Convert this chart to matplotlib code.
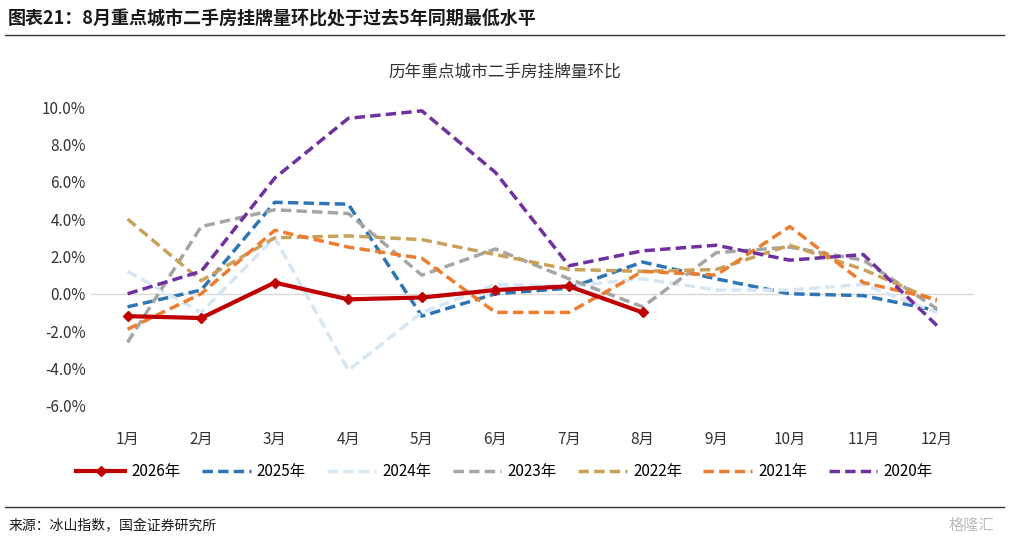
import matplotlib.pyplot as plt
from matplotlib.ticker import FuncFormatter

plt.rcParams['font.family'] = ['Noto Sans CJK SC', 'DejaVu Sans']

months = ['1月', '2月', '3月', '4月', '5月', '6月', '7月', '8月', '9月', '10月', '11月', '12月']
s2026 = [-1.2, -1.3, 0.6, -0.3, -0.2, 0.2, 0.4, -1.0]
s2025 = [-0.7, 0.2, 4.9, 4.8, -1.2, 0.0, 0.3, 1.7, 0.8, 0.0, -0.1, -0.9]
s2024 = [1.2, -1.0, 3.0, -4.1, -1.0, 0.5, 0.4, 0.8, 0.2, 0.2, 0.5, -1.0]
s2023 = [-2.6, 3.6, 4.5, 4.3, 1.0, 2.4, 0.8, -0.7, 2.2, 2.5, 1.8, -0.8]
s2022 = [4.0, 0.7, 3.0, 3.1, 2.9, 2.1, 1.3, 1.2, 1.3, 2.6, 1.3, -0.4]
s2021 = [-1.9, 0.0, 3.4, 2.5, 1.9, -1.0, -1.0, 1.2, 1.0, 3.6, 0.6, -0.3]
s2020 = [0.0, 1.2, 6.2, 9.4, 9.8, 6.5, 1.5, 2.3, 2.6, 1.8, 2.1, -1.7]

fig = plt.figure(figsize=(10.09, 5.41), dpi=100)
ax = fig.add_axes([0.090, 0.250, 0.875, 0.552])
x = list(range(1, 13))

dashed = [('2025年', s2025, '#2e75b6'), ('2024年', s2024, '#d6e6f4'),
          ('2023年', s2023, '#a5a5a5'), ('2022年', s2022, '#c9a15a'),
          ('2021年', s2021, '#ed7d31'), ('2020年', s2020, '#7030a0')]
h26, = ax.plot(x[:len(s2026)], s2026, color='#c00000', lw=3, marker='D', ms=5, label='2026年', zorder=10)
handles = [h26]
for name, vals, c in dashed:
    h, = ax.plot(x, vals, color=c, lw=2.5, ls=(0, (3, 1.5)), label=name)
    handles.append(h)

ax.axhline(0, color='#d9d9d9', lw=1, zorder=0)
ax.set_xlim(0.5, 12.5)
ax.set_ylim(-6, 10)
ax.set_yticks(range(-6, 11, 2))
ax.yaxis.set_major_formatter(FuncFormatter(lambda v, p: f'{v:.1f}%'))
ax.set_xticks(x)
ax.set_xticklabels(months)
for s in ax.spines.values():
    s.set_visible(False)
ax.tick_params(length=0, labelsize=11, colors='#333333')
ax.tick_params(axis='x', pad=18)

fig.legend(handles=handles, loc='center', bbox_to_anchor=(0.5, 0.128), ncol=7,
           frameon=False, fontsize=11, handlelength=3.2, handletextpad=0.4, columnspacing=1.4)

fig.text(0.5, 0.866, '历年重点城市二手房挂牌量环比', ha='center', va='center', fontsize=12, color='#333333')
fig.text(0.008, 0.965, '图表21：8月重点城市二手房挂牌量环比处于过去5年同期最低水平', ha='left', va='center',
         fontsize=13, fontweight='bold', style='italic', color='#1a1a1a')
fig.add_artist(plt.Line2D([0.005, 0.995], [0.935, 0.935], color='#333333', lw=1))
fig.add_artist(plt.Line2D([0.005, 0.995], [0.063, 0.063], color='#333333', lw=1))
fig.text(0.008, 0.028, '来源：冰山指数，国金证券研究所', ha='left', va='center', fontsize=10, color='#1a1a1a')
fig.text(0.985, 0.028, '格隆汇', ha='right', va='center', fontsize=11, color='#bbbbbb')

fig.savefig('out.png')
